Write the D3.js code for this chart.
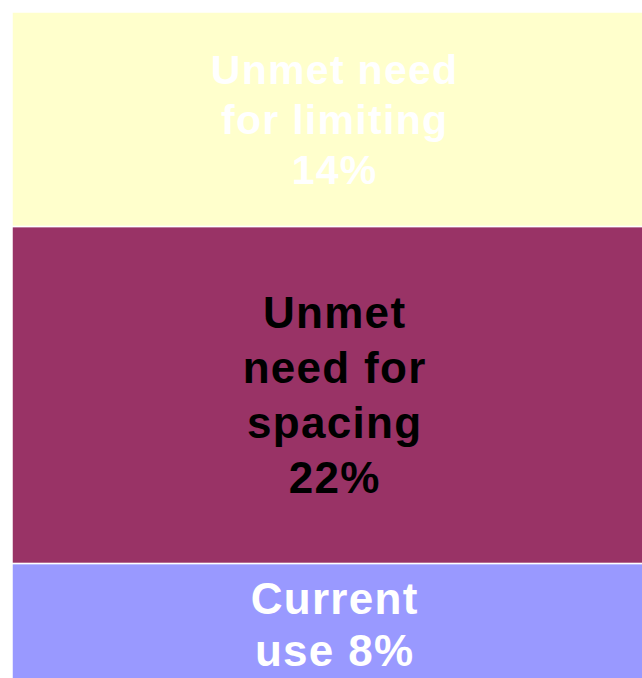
<!DOCTYPE html>
<html>
<head>
<meta charset="utf-8">
<script src="https://cdn.jsdelivr.net/npm/d3@7"></script>
<style>
  html, body { margin: 0; padding: 0; background: #fff; overflow: hidden; }
  svg { display: block; }
</style>
</head>
<body>
<div id="chart"></div>
<script>
// Data
const categories = ["Current use", "Unmet need for spacing", "Unmet need for limiting"];
const values = [8, 22, 14];
const labelLines = [
  ["Current", "use 8%"],
  ["Unmet", "need for", "spacing", "22%"],
  ["Unmet need", "for limiting", "14%"]
];

// Styles
const fills = ["#9999FF", "#993366", "#FFFFCC"];
const textColors = ["#FFFFFF", "#000000", "#FFFFFF"];
const lineGaps = [52, 55, 50];
const fontSizes = [44, 44, 41];

const W = 642, H = 678;
const svg = d3.select("#chart").append("svg").attr("width", W).attr("height", H);

const total = d3.sum(values);
const y = d3.scaleLinear().domain([0, total]).range([686, 12]);
const x = d3.scaleBand().domain(["bar"]).range([12, 656]).padding(0);

let acc = 0;
const stacked = values.map((v, i) => {
  const d = { i, y0: acc, y1: acc + v, lines: labelLines[i] };
  acc += v;
  return d;
});

const g = svg.append("g");
g.selectAll("rect").data(stacked).join("rect")
  .attr("x", x("bar"))
  .attr("width", x.bandwidth())
  .attr("y", d => y(d.y1))
  .attr("height", d => y(d.y0) - y(d.y1))
  .attr("fill", d => fills[d.i])
  .attr("stroke", "#fff")
  .attr("stroke-width", 1.5);

const ls = 1.3;
stacked.forEach(d => {
  const fontSize = fontSizes[d.i];
  const capH = fontSize * 0.716;
  const cy = (y(d.y0) + y(d.y1)) / 2;
  const n = d.lines.length;
  const gap = lineGaps[d.i];
  const blockH = capH + (n - 1) * gap;
  const firstBase = cy - blockH / 2 + capH;
  const t = g.append("text")
    .attr("text-anchor", "middle")
    .attr("font-family", "'Liberation Sans', Arial, sans-serif")
    .attr("font-weight", "bold")
    .attr("font-size", fontSize)
    .attr("letter-spacing", ls)
    .attr("fill", textColors[d.i]);
  d.lines.forEach((ln, k) => {
    t.append("tspan")
      .attr("x", x("bar") + x.bandwidth() / 2 + ls / 2)
      .attr("y", firstBase + k * gap)
      .text(ln);
  });
});
</script>
</body>
</html>
